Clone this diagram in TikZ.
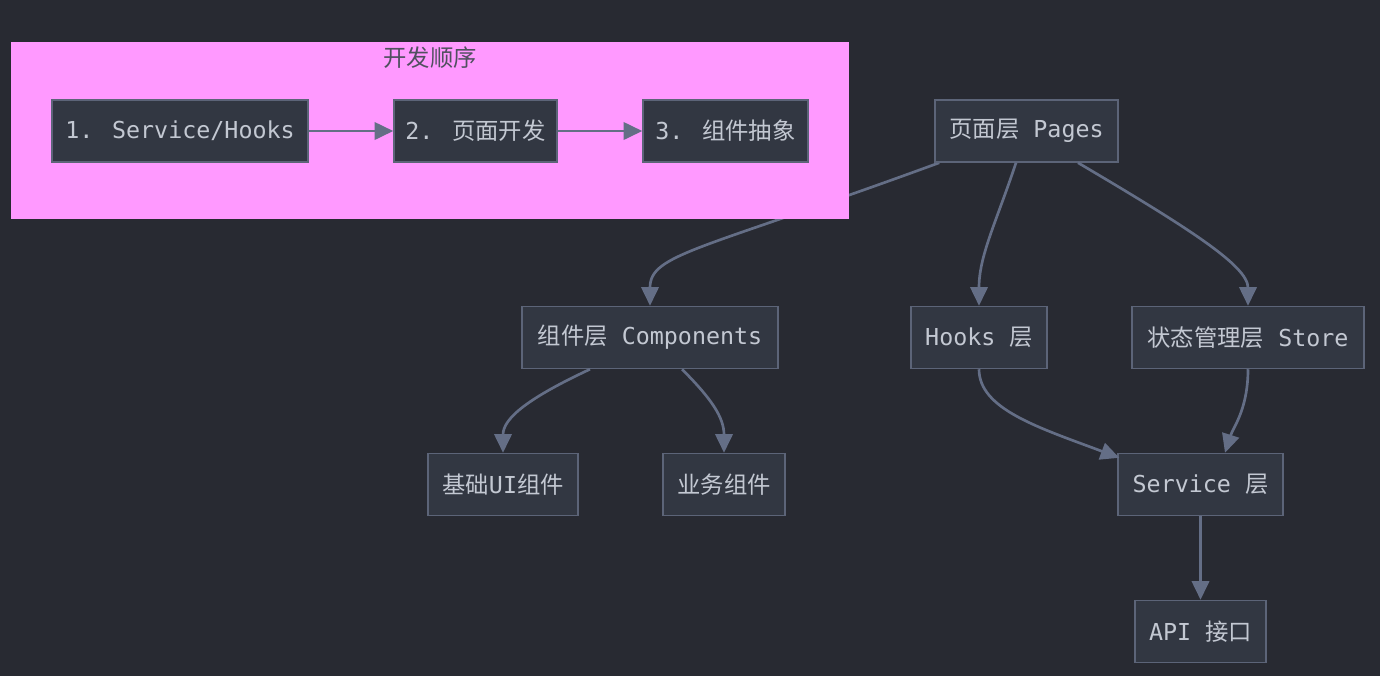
\documentclass[tikz,border=0pt]{standalone}
\usepackage{fontspec}
\setmainfont{DejaVu Sans Mono}
\newfontfamily\cjk{Noto Sans CJK SC}
\usetikzlibrary{arrows.meta,calc}
\definecolor{bgc}{RGB}{40,42,50}
\definecolor{nodef}{RGB}{50,55,66}
\definecolor{nodeb}{RGB}{92,100,120}
\definecolor{edgec}{RGB}{100,110,134}
\definecolor{txt}{RGB}{195,200,210}
\definecolor{pinkc}{RGB}{255,153,255}
\definecolor{titlec}{RGB}{80,80,95}
\pgfdeclarelayer{bgl}
\pgfdeclarelayer{cll}
\pgfsetlayers{bgl,cll,main}
\begin{document}
\begin{tikzpicture}[x=0.75pt,y=-0.75pt,
  box/.style={draw=nodeb, fill=nodef, line width=1.1pt, text=txt,
    minimum height=46.5pt, inner xsep=3pt,
    font=\fontsize{17.5}{20}\selectfont},
  edge/.style={draw=edgec, line width=2pt, -{Triangle[length=14pt,width=13pt]}}]
\begin{pgfonlayer}{bgl}
\fill[bgc] (0,0) rectangle (1380,676);
\end{pgfonlayer}
\useasboundingbox (0,0) rectangle (1380,676);
\begin{pgfonlayer}{cll}
\fill[pinkc] (11,42) rectangle (849,219);
\end{pgfonlayer}
\node[text=titlec, font=\fontsize{17.5}{20}\selectfont\cjk] (title) at (430,58) {开发顺序};
\node[box, minimum width=192pt] (n1) at (180,131) {1. Service/Hooks};
\node[box, minimum width=122.25pt] (n2) at (475.5,131) {2. {\cjk 页面开发}};
\node[box, minimum width=123.75pt] (n3) at (725.5,131) {3. {\cjk 组件抽象}};
\node[box, minimum width=137.25pt] (pages) at (1026.5,131) {{\cjk 页面层} Pages};
\node[box, minimum width=192pt] (comp) at (650,337.5) {{\cjk 组件层} Components};
\node[box, minimum width=102pt] (hooks) at (979,337.5) {Hooks {\cjk 层}};
\node[box, minimum width=174pt] (store) at (1248,337.5) {{\cjk 状态管理层} Store};
\node[box, minimum width=112.5pt] (base) at (503,484.5) {{\cjk 基础}UI{\cjk 组件}};
\node[box, minimum width=91.5pt] (biz) at (724,484.5) {{\cjk 业务组件}};
\node[box, minimum width=123.75pt] (service) at (1200.5,484.5) {Service {\cjk 层}};
\node[box, minimum width=98.25pt] (api) at (1200.5,631.5) {API {\cjk 接口}};
\draw[edge] (n1) -- (n2);
\draw[edge] (n2) -- (n3);
\begin{pgfonlayer}{bgl}
\draw[edge] ($(pages.south west)+(5,0)$) .. controls +(-240,88) and +(0,-52) .. (comp.north);
\end{pgfonlayer}
\draw[edge] ($(pages.south)+(-10.5,0)$) .. controls +(-20,60) and +(0,-50) .. (hooks.north);
\draw[edge] ($(pages.south)+(51.5,0)$) .. controls +(110,65) and +(0,-40) .. (store.north);
\draw[edge] ($(comp.south)+(-60,0)$) .. controls +(-60,28) and +(0,-35) .. (base.north);
\draw[edge] ($(comp.south)+(32,0)$) .. controls +(30,30) and +(0,-35) .. (biz.north);
\draw[edge] (hooks.south) .. controls +(0,40) and +(-80,-30) .. ($(service.north west)+(2,5)$);
\draw[edge] (store.south) .. controls +(0,40) and +(8,-25) .. ($(service.north)+(24.5,0)$);
\draw[edge] (service) -- (api);
\end{tikzpicture}
\end{document}
